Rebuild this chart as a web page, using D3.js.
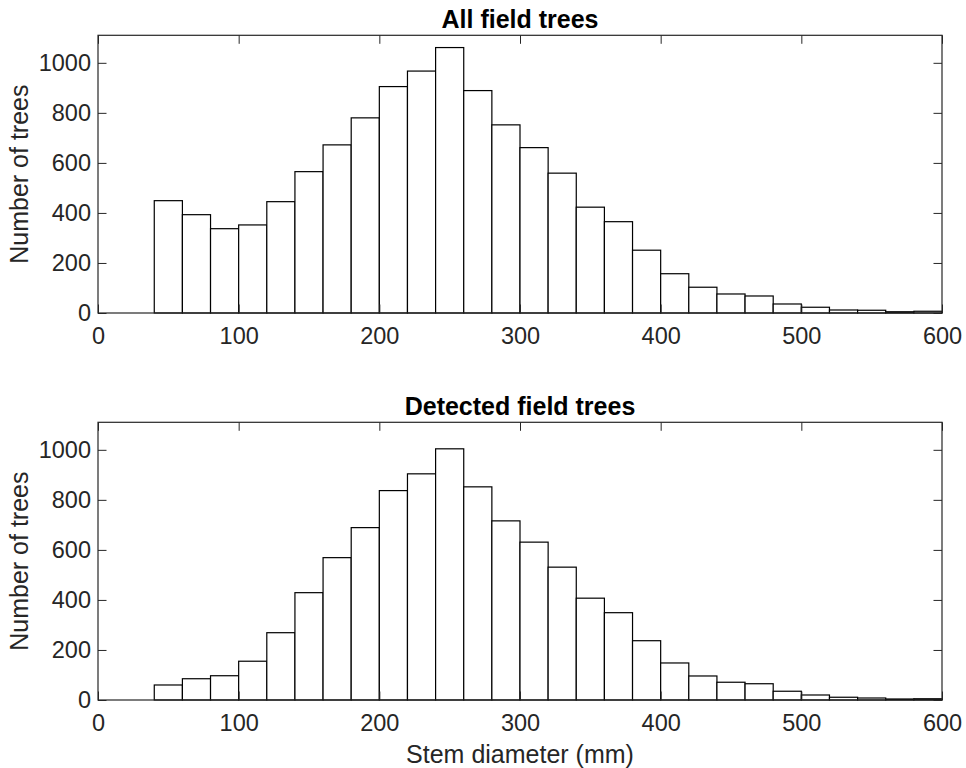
<!DOCTYPE html>
<html>
<head>
<meta charset="utf-8">
<script src="https://cdn.jsdelivr.net/npm/d3@7"></script>
<style>
  html, body { margin: 0; padding: 0; background: #fff; }
  svg { display: block; font-family: "Liberation Sans", Arial, Helvetica, sans-serif; }
</style>
</head>
<body>
<svg id="chart" width="966" height="768"></svg>
<script>
// ---- data ----
const binStarts = [40, 60, 80, 100, 120, 140, 160, 180, 200, 220, 240, 260, 280, 300,
                   320, 340, 360, 380, 400, 420, 440, 460, 480, 500, 520, 540, 560, 580];
const binWidth = 20;
const allTrees = [449, 393, 337, 352, 445, 565, 672, 780, 905, 967, 1061, 889, 752, 661,
                  559, 423, 365, 251, 157, 103, 76, 68, 36, 23, 12, 11, 5, 7];
const detectedTrees = [60, 85, 97, 155, 269, 429, 569, 689, 837, 904, 1004, 852, 716, 631,
                       531, 407, 349, 237, 148, 96, 71, 65, 35, 20, 11, 8, 4, 5];
const xTicks = [0, 100, 200, 300, 400, 500, 600];
const yTicks = [0, 200, 400, 600, 800, 1000];
const titles = ["All field trees", "Detected field trees"];
const yLabel = "Number of trees";
const xLabel = "Stem diameter (mm)";

// ---- layout ----
const svg = d3.select("#chart");
const left = 98, right = 942;
const panels = [
  { top: 35.3, bottom: 313, values: allTrees, title: titles[0] },
  { top: 422.3, bottom: 700, values: detectedTrees, title: titles[1] }
];
const axisColor = "#262626";
const tickLen = 8.5;
const tickFont = 23.5;
const labelFont = 25;
const fmt = d3.format("d");

const x = d3.scaleLinear().domain([0, 600]).range([left, right]);

panels.forEach((p, i) => {
  const y = d3.scaleLinear().domain([0, 1110]).range([p.bottom, p.top]);
  const g = svg.append("g");

  // bars
  g.selectAll("rect.bar")
    .data(binStarts.map((s, k) => ({ s, v: p.values[k] })))
    .enter().append("rect")
    .attr("class", "bar")
    .attr("x", d => x(d.s))
    .attr("width", d => x(d.s + binWidth) - x(d.s))
    .attr("y", d => y(d.v))
    .attr("height", d => y(0) - y(d.v))
    .attr("fill", "#fff")
    .attr("stroke", "#000")
    .attr("stroke-width", 1.2);

  // axes
  const styleAxis = sel => {
    sel.select(".domain").remove();
    sel.selectAll(".tick line").attr("stroke", axisColor).attr("stroke-width", 1);
    sel.selectAll(".tick text").attr("fill", axisColor).attr("font-size", tickFont)
      .attr("font-family", "'Liberation Sans', Arial, Helvetica, sans-serif");
  };

  g.append("g").attr("transform", `translate(0,${p.bottom})`)
    .call(d3.axisBottom(x).tickValues(xTicks).tickFormat(fmt).tickSizeInner(-tickLen).tickSizeOuter(0).tickPadding(14.6))
    .call(styleAxis);
  g.append("g").attr("transform", `translate(0,${p.top})`)
    .call(d3.axisTop(x).tickValues(xTicks).tickSizeInner(-tickLen).tickSizeOuter(0).tickFormat(""))
    .call(styleAxis);
  g.append("g").attr("transform", `translate(${left},0)`)
    .call(d3.axisLeft(y).tickValues(yTicks).tickFormat(fmt).tickSizeInner(-tickLen).tickSizeOuter(0).tickPadding(7))
    .call(styleAxis);
  g.append("g").attr("transform", `translate(${right},0)`)
    .call(d3.axisRight(y).tickValues(yTicks).tickSizeInner(-tickLen).tickSizeOuter(0).tickFormat(""))
    .call(styleAxis);

  // box
  g.append("rect")
    .attr("x", left).attr("y", p.top)
    .attr("width", right - left).attr("height", p.bottom - p.top)
    .attr("fill", "none").attr("stroke", axisColor).attr("stroke-width", 1.2);

  // title
  g.append("text")
    .attr("x", (left + right) / 2).attr("y", p.top - 7)
    .attr("text-anchor", "middle")
    .attr("font-size", labelFont).attr("font-weight", "bold").attr("fill", "#000")
    .text(p.title);

  // y label
  g.append("text")
    .attr("transform", `translate(28,${(p.top + p.bottom) / 2}) rotate(-90)`)
    .attr("text-anchor", "middle")
    .attr("font-size", labelFont).attr("fill", axisColor)
    .text(yLabel);
});

svg.append("text")
  .attr("x", (left + right) / 2).attr("y", 763)
  .attr("text-anchor", "middle")
  .attr("font-size", labelFont).attr("fill", axisColor)
  .text(xLabel);
</script>
</body>
</html>
